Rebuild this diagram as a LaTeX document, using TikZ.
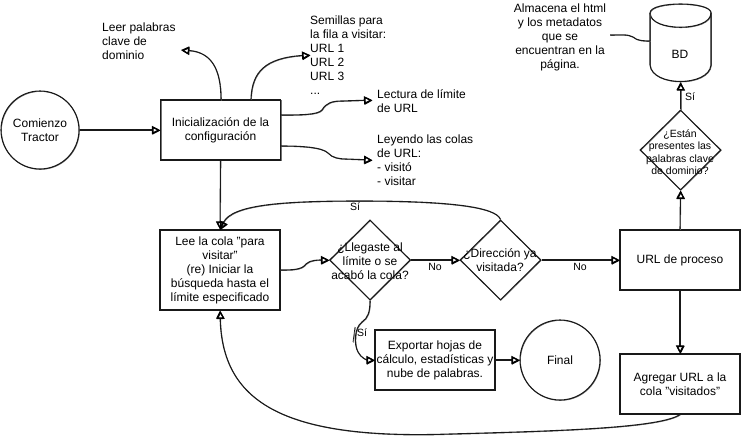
\documentclass[tikz,border=0pt]{standalone}
\usepackage{fontspec}
\setmainfont{Liberation Sans}
\usetikzlibrary{arrows.meta,shapes.geometric}
\tikzset{
  sk/.style={draw=black!90,line width=1.1pt,preaction={draw=black!55,line width=.6pt,transform canvas={xshift=.5pt,yshift=-.5pt}}},
  boxn/.style={sk,rectangle,inner sep=0pt,align=center,font=\fontsize{12}{14}\selectfont,execute at begin node={\vspace*{4pt}}},
  circn/.style={sk,circle,inner sep=0pt,minimum size=78pt,align=center,font=\fontsize{12}{14}\selectfont,execute at begin node={\vspace*{3pt}}},
  diam/.style={sk,diamond,shape aspect=1,inner sep=0pt,minimum width=81pt,minimum height=80pt},
  txt/.style={inner sep=0pt,align=left,anchor=north west,font=\fontsize{12}{14}\selectfont},
  dtxt/.style={inner sep=0pt,align=center,font=\fontsize{12}{14}\selectfont},
  small/.style={inner sep=0pt,font=\fontsize{10.5}{12}\selectfont},
  conn/.style={draw=black!90,line width=1.1pt,-{Triangle[open,length=8pt,width=8pt,line width=1.2pt,black]},preaction={draw=black!55,line width=.6pt,transform canvas={xshift=.5pt,yshift=-.5pt}}},
  plainconn/.style={sk}
}
\begin{document}
\begin{tikzpicture}[x=1pt,y=-1pt]
\useasboundingbox (0,0) rectangle (741,437);
% nodes
\node[circn] (start) at (40,130) {Comienzo\\Tractor};
\node[boxn,minimum width=120pt,minimum height=60pt] (cfg) at (220.5,130) {Inicialización de la\\configuración};
\node[boxn,minimum width=120pt,minimum height=80pt] (lee) at (220,270) {Lee la cola "para\\visitar"\\(re) Iniciar la\\búsqueda hasta el\\límite especificado};
\node[diam] (d1) at (370,260) {};
\node[dtxt] (d1t) at (370,261) {¿Llegaste al\\límite o se\\acabó la cola?};
\node[diam] (d2) at (500.5,260) {};
\node[dtxt] (d2t) at (500,260) {¿Dirección ya\\visitada?};
\node[boxn,minimum width=120pt,minimum height=60pt] (proc) at (680,260) {URL de proceso};
\node[boxn,minimum width=120pt,minimum height=60pt] (agr) at (680,384) {Agregar URL a la\\cola "visitados"};
\node[diam] (d3) at (680.5,150) {};
\node[dtxt,font=\fontsize{10.5}{12.5}\selectfont] (d3t) at (680,152) {¿Están\\presentes las\\palabras clave\\de dominio?};
\node[boxn,minimum width=120pt,minimum height=60pt] (exp) at (435,360) {Exportar hojas de\\cálculo, estadísticas y\\nube de palabras.};
\node[circn,minimum size=80pt] (fin) at (560,360) {Final};
% cylinder drawn directly, named node for its text
\node[inner sep=0pt,minimum width=61pt,minimum height=78pt] (bd) at (680.5,43) {};
\node[dtxt] (bdt) at (680,54) {BD};
\draw[sk] (650,13) .. controls (650,1) and (711,1) .. (711,13) .. controls (711,32) and (650,32) .. (650,13) -- cycle;
\draw[sk] (650,13) -- (650,65) .. controls (652,87) and (709,87) .. (711,65) -- (711,13);
% free texts
\node[txt] (t1) at (102,23) {Leer palabras\\clave de\\dominio};
\node[txt] (t2) at (310,16) {Semillas para\\la fila a visitar:\\URL 1\\URL 2\\URL 3\\...};
\node[txt] (t3) at (377,89) {Lectura de límite\\de URL};
\node[txt] (t4) at (377,135) {Leyendo las colas\\de URL:\\- visitó\\- visitar};
\node[dtxt] (t5) at (560,37.5) {Almacena el html\\y los metadatos\\que se\\encuentran en la\\página.};
% free ends
\coordinate (e1) at (181,50);
\coordinate (e2) at (310,55);
\coordinate (e3) at (372,100);
\coordinate (e4) at (372,160);
\coordinate (e5) at (610,35);
% connectors
\draw[conn] (start.east) -- (cfg.west);
\draw[conn] (221,100) .. controls (221,70) and (212,52) .. (e1);
\draw[conn] (251,99) .. controls (252,72) and (265,58) .. (e2);
\draw[conn] (281,115) .. controls (300,115) and (318,115) .. (322,110) .. controls (326,103) and (332,101) .. (342,101) -- (e3);
\draw[conn] (281,146) .. controls (300,146) and (322,147) .. (328,153) .. controls (332,158) and (340,159) .. (346,159) -- (e4);
\draw[conn] (cfg.south) -- (lee.north);
\draw[conn] (d2.north) .. controls (496,207) and (450,201) .. (360,201) .. controls (280,201) and (232,205) .. (lee.north);
\draw[conn] (280,270) .. controls (292,270) and (302,270) .. (306,264) .. controls (310,260) and (318,260) .. (d1.west);
\draw[conn] (d1.east) -- (d2.west);
\draw[conn] (d2.east) -- (proc.west);
\draw[conn] (proc.north) -- (d3.south);
\draw[conn] (d3.north) -- (bd.south);
\draw[conn] (proc.south) -- (agr.north);
\draw[conn] (agr.south) .. controls (660,428) and (560,431) .. (450,434) .. controls (280,440) and (222,400) .. (lee.south);
\draw[conn] (d1.south) .. controls (370,312) and (368,318) .. (362,322) .. controls (354,328) and (354,345) .. (358,352) .. controls (361,358) and (367,360) .. (exp.west);
\draw[plainconn,line width=.7pt] (355,327) -- (353,342);
\draw[conn] (exp.east) -- (fin.west);
\draw[plainconn] (e5) .. controls (620,35) and (628,34) .. (633,37) .. controls (637,41) and (645,41) .. (650,41);
% edge labels
\node[small] (l1) at (355,207) {Sí};
\node[small] (l2) at (435,267) {No};
\node[small] (l3) at (580,267) {No};
\node[small] (l4) at (362,333) {Sí};
\node[small] (l5) at (690,97) {Sí};
\end{tikzpicture}
\end{document}
